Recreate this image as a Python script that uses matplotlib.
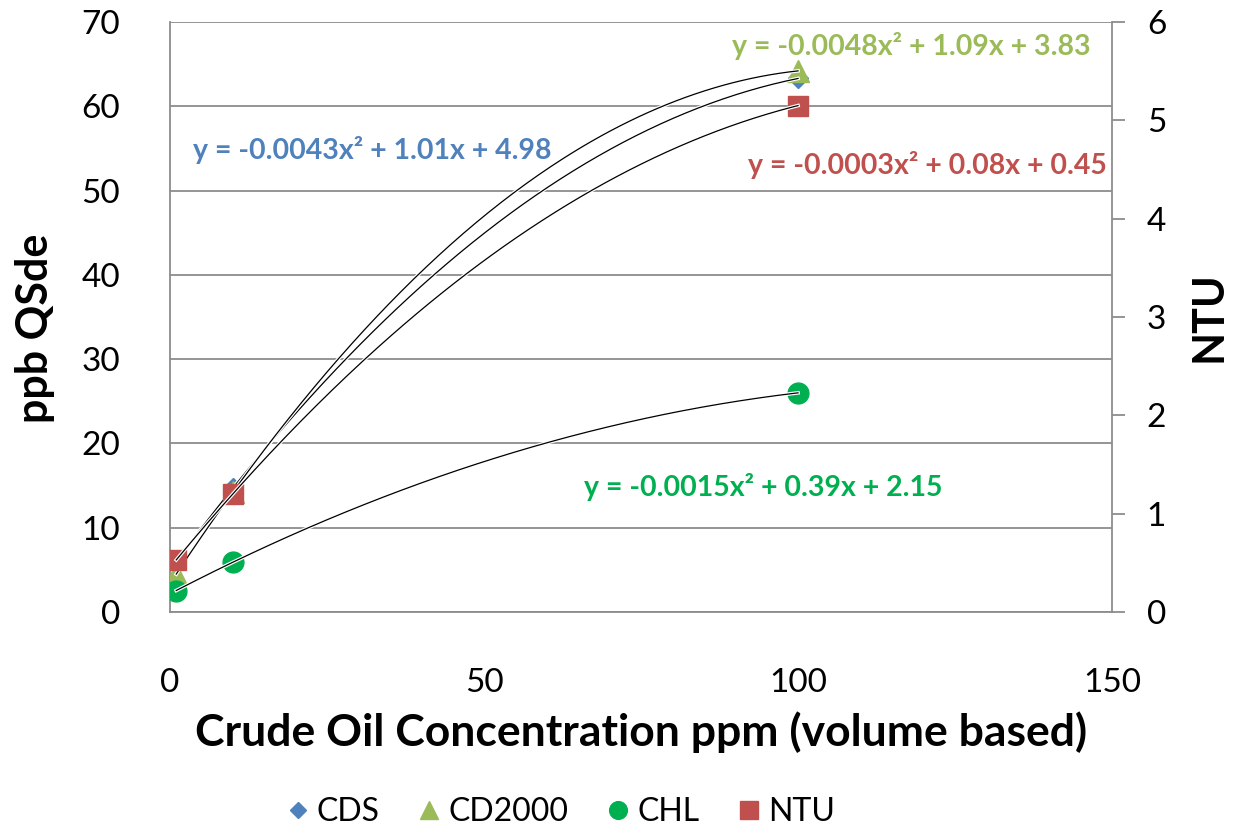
"""Crude oil concentration vs sensor response, with quadratic trendlines."""

import matplotlib

matplotlib.use("Agg")
import matplotlib.pyplot as plt
import matplotlib.patheffects as pe
import numpy as np

plt.rcParams["font.family"] = ["Lato", "DejaVu Sans"]

# data
conc = [1, 10, 100]
cds = [6.0, 14.7, 63.3]
cd2000 = [4.5, 14.2, 64.2]
chl = [2.55, 5.9, 26.0]
ntu = [0.53, 1.2, 5.15]

eq_cds = "y = -0.0043x² + 1.01x + 4.98"
eq_cd2000 = "y = -0.0048x² + 1.09x + 3.83"
eq_chl = "y = -0.0015x² + 0.39x + 2.15"
eq_ntu = "y = -0.0003x² + 0.08x + 0.45"

x_ticks = [0, 50, 100, 150]
left_ticks = [0, 10, 20, 30, 40, 50, 60, 70]
right_ticks = [0, 1, 2, 3, 4, 5, 6]

C_CDS = "#4F81BD"
C_CD2000 = "#9BBB59"
C_CHL = "#00B050"
C_NTU = "#C0504D"
GRID = "#8C8C8C"

fig = plt.figure(figsize=(12.37, 8.33), dpi=100)
ax = fig.add_axes([0.1374, 0.2653, 0.899 - 0.1374, 0.9736 - 0.2653])
ax2 = ax.twinx()


def trend(axis, xs, ys):
    coef = np.polyfit(xs, ys, 2)
    xx = np.linspace(min(xs), max(xs), 200)
    axis.plot(xx, np.polyval(coef, xx), color="black", lw=0.9, zorder=5,
              path_effects=[pe.Stroke(linewidth=2.6, foreground="white"), pe.Normal()])


h1, = ax.plot(conc, cds, "D", color=C_CDS, ms=10, label="CDS", zorder=3)
h2, = ax.plot(conc, cd2000, "^", color=C_CD2000, ms=16, label="CD2000", zorder=3)
h3, = ax.plot(conc, chl, "o", color=C_CHL, ms=15, label="CHL", zorder=3)
trend(ax, conc, cds)
trend(ax, conc, cd2000)
trend(ax, conc, chl)

h4, = ax2.plot(conc, ntu, "s", color=C_NTU, ms=15, label="NTU", zorder=3)
trend(ax2, conc, ntu)

ax.set_xlim(0, 150)
ax.set_ylim(0, 70)
ax2.set_ylim(0, 6)
ax.set_xticks(x_ticks)
ax.set_yticks(left_ticks)
ax2.set_yticks(right_ticks)

ax.yaxis.grid(True, color=GRID, lw=1.3)
ax.set_axisbelow(True)

for s in ["left", "bottom"]:
    ax.spines[s].set_color(GRID)
    ax.spines[s].set_linewidth(1.3)
ax.spines["right"].set_visible(False)
ax.spines["top"].set_visible(False)
for s in ["left", "bottom", "top"]:
    ax2.spines[s].set_visible(False)
ax2.spines["right"].set_color(GRID)
ax2.spines["right"].set_linewidth(1.3)

ax.tick_params(axis="both", length=0, labelsize=24)
ax.tick_params(axis="x", pad=40)
ax.tick_params(axis="y", pad=36)
ax2.tick_params(axis="y", length=9, width=1.3, color=GRID, direction="out",
                labelsize=24, pad=16)

ax.set_xlabel("Crude Oil Concentration ppm (volume based)", fontsize=32,
              fontweight="bold", labelpad=10)
ax.set_ylabel("ppb QSde", fontsize=31, fontweight="bold", va="center")
ax.yaxis.set_label_coords(-0.143, 0.48)
ax2.set_ylabel("NTU", fontsize=31, fontweight="bold", va="center", rotation=90)
ax2.yaxis.set_label_coords(1.102, 0.5)

kw = dict(fontsize=20.5, fontweight="bold", va="center")
ax.text(3.7, 54.8, eq_cds, color=C_CDS, ha="left", **kw)
ax.text(89.5, 67.2, eq_cd2000, color=C_CD2000, ha="left", **kw)
ax.text(92.0, 53.0, eq_ntu, color=C_NTU, ha="left", **kw)
ax.text(66.0, 14.8, eq_chl, color=C_CHL, ha="left", **kw)

fig.legend(handles=[h1, h2, h3, h4], loc="center", ncol=4, frameon=False,
           bbox_to_anchor=(0.452, 0.025), fontsize=23, handletextpad=0.15,
           columnspacing=1.1, handlelength=0.9, markerscale=0.85)

fig.savefig("out.png", dpi=100)
plt.close(fig)
